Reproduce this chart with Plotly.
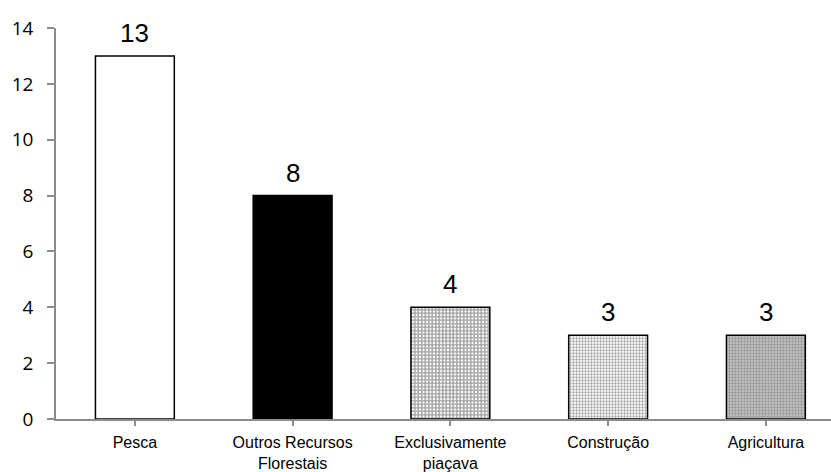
import plotly.graph_objects as go

categories = ["Pesca", "Outros Recursos<br>Florestais", "Exclusivamente<br>piaçava", "Construção", "Agricultura"]
values = [13, 8, 4, 3, 3]
y_ticks = [0, 2, 4, 6, 8, 10, 12, 14]

# fill style per bar: (background, pattern shape, pattern colour, size, solidity)
fills = [
    ("white", "", "black", 8, 0.3),
    ("black", "", "black", 8, 0.3),
    ("white", "+", "#111111", 3.5, 0.65),
    ("white", ".", "#c4c4c4", 3, 0.45),
    ("white", ".", "#2a2a2a", 3, 0.8),
]

x_idx = list(range(len(categories)))

fig = go.Figure()
fig.add_trace(go.Bar(
    x=x_idx,
    y=values,
    width=0.5,
    marker=dict(
        color=[f[0] for f in fills],
        line=dict(color="black", width=1.5),
        pattern=dict(
            shape=[f[1] for f in fills],
            fgcolor=[f[2] for f in fills],
            bgcolor=[f[0] for f in fills],
            size=[f[3] for f in fills],
            solidity=[f[4] for f in fills],
            fillmode="overlay",
        ),
    ),
    hoverinfo="skip",
))

for xi, v in zip(x_idx, values):
    fig.add_annotation(
        x=xi, y=v, text=str(v), showarrow=False,
        yanchor="bottom", yshift=6,
        font=dict(family="Liberation Sans, Arial", size=26, color="black"),
    )

plot_left = 56
plot_width = 831 - plot_left
cat_width = 157.75

fig.update_layout(
    width=831,
    height=472,
    margin=dict(l=plot_left, r=0, t=28, b=53),
    paper_bgcolor="white",
    plot_bgcolor="white",
    showlegend=False,
    bargap=0.5,
    xaxis=dict(
        range=[-0.5, -0.5 + plot_width / cat_width],
        automargin=False,
        tickmode="array",
        tickvals=x_idx,
        ticktext=categories,
        tickson="boundaries",
        ticks="outside",
        ticklen=5,
        tickcolor="#8c8c8c",
        tickwidth=1.5,
        showline=True,
        linecolor="#8c8c8c",
        linewidth=1.5,
        showgrid=False,
        zeroline=False,
        tickfont=dict(family="Liberation Sans, Arial", size=16, color="black"),
        ticklabelstandoff=3,
    ),
    yaxis=dict(
        range=[0, 14],
        automargin=False,
        tickmode="array",
        tickvals=y_ticks,
        ticks="outside",
        ticklen=7,
        tickcolor="#8c8c8c",
        tickwidth=1.5,
        showline=True,
        linecolor="#8c8c8c",
        linewidth=1.5,
        showgrid=False,
        zeroline=False,
        tickfont=dict(family="Open Sans", size=19, color="black"),
        ticklabelstandoff=10,
    ),
)

fig.write_html("out.html")
